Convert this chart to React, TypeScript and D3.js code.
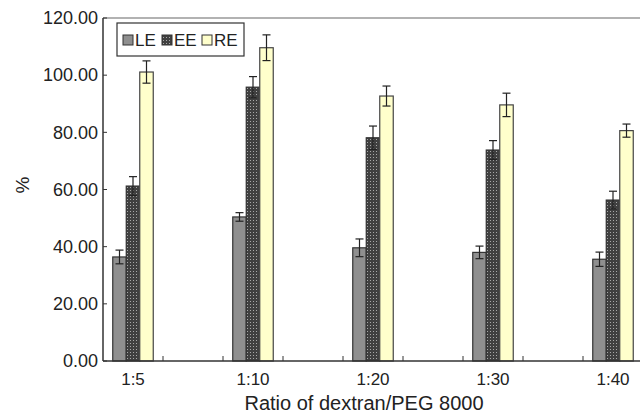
import React, { useRef, useEffect } from "react";
import * as d3 from "d3";

const categories = ["1:5", "1:10", "1:20", "1:30", "1:40"];
const series = ["LE", "EE", "RE"];
const leValues = [36.4, 50.4, 39.6, 38.0, 35.6];
const leErrors = [2.4, 1.5, 3.1, 2.2, 2.5];
const eeValues = [61.2, 95.8, 78.1, 73.8, 56.3];
const eeErrors = [3.3, 3.7, 4.1, 3.3, 3.1];
const reValues = [101.1, 109.6, 92.7, 89.6, 80.6];
const reErrors = [3.9, 4.5, 3.5, 4.1, 2.3];
const yTicks = [0, 20, 40, 60, 80, 100, 120];

const App = () => {
  const svgRef = useRef<SVGSVGElement>(null);

  useEffect(() => {
    const width = 640;
    const height = 414;
    const left = 103;
    const top = 18;
    const bottom = 361;
    const font = "'Liberation Sans', Arial, sans-serif";

    const svg = d3.select(svgRef.current);
    svg.selectAll("*").remove();
    svg.attr("width", width).attr("height", height);

    // dotted pattern for EE
    const defs = svg.append("defs");
    const pat = defs
      .append("pattern")
      .attr("id", "eeDots")
      .attr("patternUnits", "userSpaceOnUse")
      .attr("width", 3)
      .attr("height", 3);
    pat.append("rect").attr("width", 3).attr("height", 3).attr("fill", "#404040");
    pat.append("rect").attr("x", 1).attr("y", 1).attr("width", 1).attr("height", 1).attr("fill", "#a8a8a8");

    const fills = ["#8f8f8f", "url(#eeDots)", "#ffffcc"];
    const strokes = ["#333", "#333", "#444"];

    const y = d3.scaleLinear().domain([0, 120]).range([bottom, top]);
    const x = d3.scalePoint().domain(categories).range([133, 613]);
    const step = 120;
    const barW = 13.5;

    const data = [
      { vals: leValues, errs: leErrors },
      { vals: eeValues, errs: eeErrors },
      { vals: reValues, errs: reErrors },
    ];

    // top line
    svg
      .append("line")
      .attr("x1", left)
      .attr("x2", width)
      .attr("y1", top)
      .attr("y2", top)
      .attr("stroke", "#999")
      .attr("stroke-width", 1.5);

    // bars
    data.forEach((s, si) => {
      categories.forEach((c, ci) => {
        const cx = (x(c) as number) + (si - 1) * barW;
        const v = s.vals[ci];
        svg
          .append("rect")
          .attr("x", cx - barW / 2)
          .attr("y", y(v))
          .attr("width", barW)
          .attr("height", y(0) - y(v))
          .attr("fill", fills[si])
          .attr("stroke", strokes[si])
          .attr("stroke-width", 1.2);
        const e = s.errs[ci];
        const g = svg.append("g").attr("stroke", "#222").attr("stroke-width", 1.2);
        g.append("line").attr("x1", cx).attr("x2", cx).attr("y1", y(v + e)).attr("y2", y(v - e));
        g.append("line").attr("x1", cx - 4).attr("x2", cx + 4).attr("y1", y(v + e)).attr("y2", y(v + e));
        g.append("line").attr("x1", cx - 4).attr("x2", cx + 4).attr("y1", y(v - e)).attr("y2", y(v - e));
      });
    });

    // axes
    svg
      .append("line")
      .attr("x1", left)
      .attr("x2", left)
      .attr("y1", top)
      .attr("y2", bottom)
      .attr("stroke", "#333")
      .attr("stroke-width", 1.5);
    svg
      .append("line")
      .attr("x1", left)
      .attr("x2", width)
      .attr("y1", bottom)
      .attr("y2", bottom)
      .attr("stroke", "#333")
      .attr("stroke-width", 1.5);

    yTicks.forEach((t) => {
      svg
        .append("line")
        .attr("x1", left)
        .attr("x2", left + 4)
        .attr("y1", y(t))
        .attr("y2", y(t))
        .attr("stroke", "#333");
      svg
        .append("text")
        .attr("x", left - 5)
        .attr("y", y(t))
        .attr("dy", "0.35em")
        .attr("text-anchor", "end")
        .attr("font-family", font)
        .attr("font-size", 18)
        .attr("fill", "#222")
        .text(t.toFixed(2));
    });

    categories.forEach((c) => {
      const cx = x(c) as number;
      [cx - step / 4, cx + step / 4].forEach((tx) => {
        if (tx <= left || tx >= width) return;
        svg
          .append("line")
          .attr("x1", tx)
          .attr("x2", tx)
          .attr("y1", bottom)
          .attr("y2", bottom - 5)
          .attr("stroke", "#333");
      });
      svg
        .append("text")
        .attr("x", cx)
        .attr("y", 385)
        .attr("text-anchor", "middle")
        .attr("font-family", font)
        .attr("font-size", 17)
        .attr("fill", "#222")
        .text(c);
    });

    svg
      .append("text")
      .attr("x", 364)
      .attr("y", 410)
      .attr("text-anchor", "middle")
      .attr("font-family", font)
      .attr("font-size", 20)
      .attr("fill", "#222")
      .text("Ratio of dextran/PEG 8000");

    svg
      .append("text")
      .attr("transform", "translate(29,185) rotate(-90)")
      .attr("text-anchor", "middle")
      .attr("font-family", font)
      .attr("font-size", 19)
      .attr("fill", "#222")
      .text("%");

    // legend
    const lg = svg.append("g");
    lg.append("rect")
      .attr("x", 117)
      .attr("y", 23)
      .attr("width", 127)
      .attr("height", 33)
      .attr("fill", "white")
      .attr("stroke", "#333")
      .attr("stroke-width", 1.2);
    const lx = [123, 162, 202];
    series.forEach((s, i) => {
      lg.append("rect")
        .attr("x", lx[i])
        .attr("y", 35)
        .attr("width", 10)
        .attr("height", 10)
        .attr("fill", fills[i])
        .attr("stroke", "#333");
      lg.append("text")
        .attr("x", lx[i] + 12)
        .attr("y", 46)
        .attr("font-family", font)
        .attr("font-size", 17)
        .attr("fill", "#222")
        .text(s);
    });
  }, []);

  return (
    <div style={{ position: "absolute", left: 0, top: 0 }}>
      <svg ref={svgRef}></svg>
    </div>
  );
};

export default App;
